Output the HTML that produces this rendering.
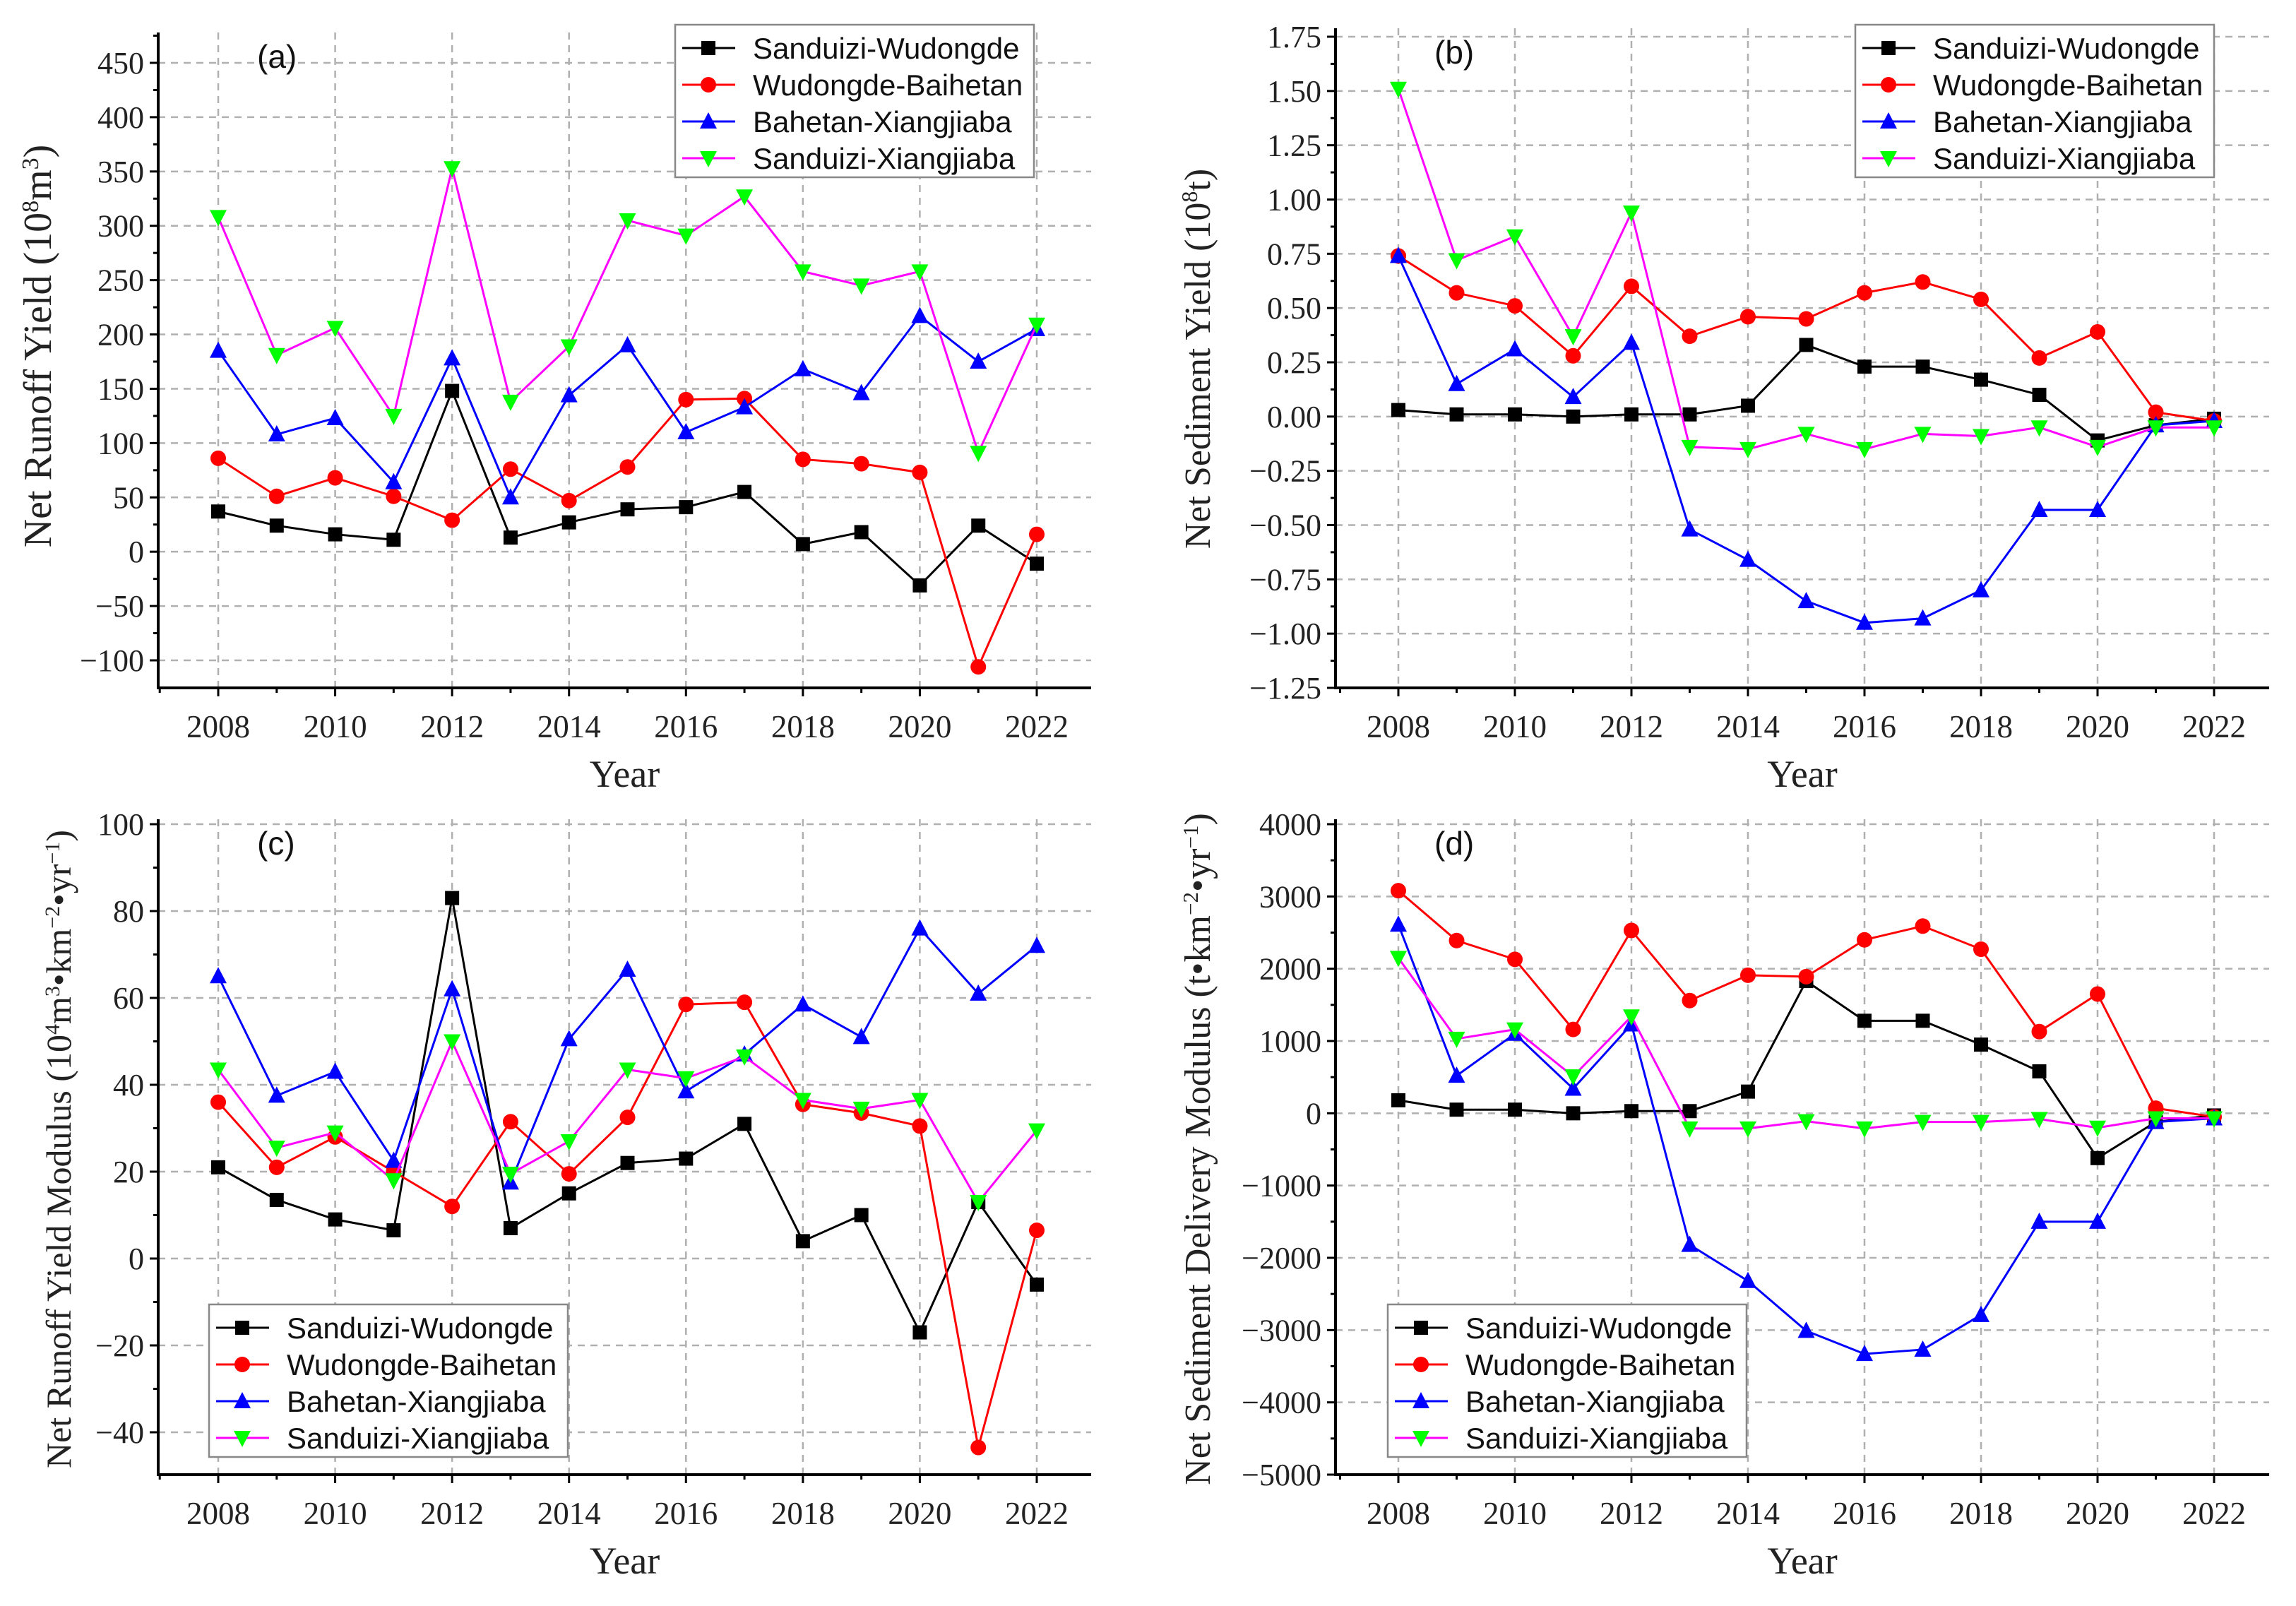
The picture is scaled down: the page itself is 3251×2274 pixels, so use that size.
<!DOCTYPE html>
<html><head><meta charset="utf-8"><style>
html,body{margin:0;padding:0;background:#fff;}
svg{display:block;}
</style></head><body>
<svg id="chart" width="3251" height="2274" viewBox="0 0 3251 2274" xmlns="http://www.w3.org/2000/svg"></svg>
<script>
const years = [2008,2009,2010,2011,2012,2013,2014,2015,2016,2017,2018,2019,2020,2021,2022];
const xTicks = [2008,2010,2012,2014,2016,2018,2020,2022];
const seriesNames = ["Sanduizi-Wudongde","Wudongde-Baihetan","Bahetan-Xiangjiaba","Sanduizi-Xiangjiaba"];
// panel a
const aSW = [37,24,16,11,148,13,27,39,41,55,7,18,-31,24,-11];
const aWB = [86,51,68,51,29,76,47,78,140,141,85,81,73,-106,16];
const aBX = [185,108,123,64,178,50,144,190,110,133,168,146,217,175,205];
const aSX = [308,181,206,125,353,138,189,305,291,327,258,245,258,91,209];
const aTicks = [-100,-50,0,50,100,150,200,250,300,350,400,450];
// panel b
const bSW = [0.03,0.01,0.01,0.0,0.01,0.01,0.05,0.33,0.23,0.23,0.17,0.10,-0.11,-0.04,-0.01];
const bWB = [0.74,0.57,0.51,0.28,0.60,0.37,0.46,0.45,0.57,0.62,0.54,0.27,0.39,0.02,-0.02];
const bBX = [0.74,0.15,0.31,0.09,0.34,-0.52,-0.66,-0.85,-0.95,-0.93,-0.80,-0.43,-0.43,-0.04,-0.02];
const bSX = [1.51,0.72,0.83,0.37,0.94,-0.14,-0.15,-0.08,-0.15,-0.08,-0.09,-0.05,-0.14,-0.05,-0.05];
const bTicks = [-1.25,-1.0,-0.75,-0.5,-0.25,0,0.25,0.5,0.75,1.0,1.25,1.5,1.75];
// panel c
const cSW = [21,13.5,9,6.5,83,7,15,22,23,31,4,10,-17,13,-6];
const cWB = [36,21,28,20,12,31.5,19.5,32.5,58.5,59,35.5,33.5,30.5,-43.5,6.5];
const cBX = [65,37.5,43,22.5,62,17.5,50.5,66.5,38.5,47,58.5,51,76,61,72];
const cSX = [43.5,25.5,29,18,50,19.5,27,43.5,41.5,46.5,36.5,34.5,36.5,13,29.5];
const cTicks = [-40,-20,0,20,40,60,80,100];
// panel d
const dSW = [180,50,50,0,30,30,300,1830,1280,1280,950,580,-620,-120,-30];
const dWB = [3080,2390,2130,1160,2530,1560,1910,1890,2400,2590,2270,1130,1650,70,-50];
const dBX = [2610,520,1100,340,1230,-1820,-2320,-3010,-3330,-3270,-2790,-1500,-1500,-120,-70];
const dSX = [2150,1030,1160,510,1340,-210,-210,-110,-210,-120,-120,-80,-200,-70,-70];
const dTicks = [-5000,-4000,-3000,-2000,-1000,0,1000,2000,3000,4000];

const NS="http://www.w3.org/2000/svg";
const svg=document.getElementById('chart');
function mk(tag,attrs,parent){const e=document.createElementNS(NS,tag);for(const k in attrs)e.setAttribute(k,attrs[k]);(parent||svg).appendChild(e);return e;}
const lineColors=["#000000","#ff0000","#0000ff","#ff00ff"];
const markFill=["#000000","#ff0000","#0000ff","#00ff00"];
const shapes=["square","circle","up","down"];
function marker(g,shape,x,y,fill){
  const s=10;let e;
  if(shape==="square")e=mk('rect',{x:x-s,y:y-s,width:2*s,height:2*s,fill:fill},g);
  else if(shape==="circle")e=mk('circle',{cx:x,cy:y,r:s+1,fill:fill},g);
  else if(shape==="up")e=mk('polygon',{points:`${x},${y-s-3} ${x-s-2},${y+s} ${x+s+2},${y+s}`,fill:fill},g);
  else e=mk('polygon',{points:`${x},${y+s+3} ${x-s-2},${y-s} ${x+s+2},${y-s}`,fill:fill},g);
  return e;
}
function panel(p){
  const g=mk('g',{});
  
  
  const X=v=>p.x0+(v-2008)*(p.x1-p.x0)/14;
  const Y=v=>p.ya+(v-p.va)*(p.yb-p.ya)/(p.vb-p.va);
  xTicks.forEach(t=>{const l=mk('line',{x1:X(t),x2:X(t),y1:p.top,y2:p.bottom,stroke:"#b0b0b0","stroke-width":2.5,"stroke-dasharray":"10 8"},g);
    });
  p.ticks.forEach(t=>{const l=mk('line',{x1:p.left,x2:p.right,y1:Y(t),y2:Y(t),stroke:"#b0b0b0","stroke-width":2.5,"stroke-dasharray":"10 8"},g);
    });
  const ax=mk('line',{x1:p.left,x2:p.left,y1:p.top,y2:p.bottom+2,stroke:"#000","stroke-width":4},g);
  
  const bx=mk('line',{x1:p.left-2,x2:p.right,y1:p.bottom,y2:p.bottom,stroke:"#000","stroke-width":4},g);
  
  const step=p.ticks[1]-p.ticks[0];
  p.ticks.forEach((t,i)=>{
    mk('line',{x1:p.left-12,x2:p.left,y1:Y(t),y2:Y(t),stroke:"#000","stroke-width":3},g);
    const m=Y(t+step/2); if(m>p.top) mk('line',{x1:p.left-7,x2:p.left,y1:m,y2:m,stroke:"#000","stroke-width":3},g);
    const tx=mk('text',{x:p.left-20,y:Y(t)+15,"text-anchor":"end","font-family":"Liberation Serif, serif","font-size":44,fill:"#222"},g);
    tx.textContent=(t<0?"\u2212":"")+(p.dec?Math.abs(t).toFixed(2):Math.abs(t));
    
  });
  for(let yr=2007;yr<=2023;yr++){const xx=X(yr);if(xx>=p.left&&xx<=p.right)mk('line',{x1:xx,x2:xx,y1:p.bottom,y2:p.bottom+(yr%2===0?12:7),stroke:"#000","stroke-width":3},g);}
  xTicks.forEach(t=>{const tx=mk('text',{x:X(t),y:p.bottom+70,"text-anchor":"middle","font-family":"Liberation Serif, serif","font-size":45,fill:"#222"},g);
    tx.textContent=t;});
  const xt=mk('text',{x:(p.left+p.right)/2,y:p.bottom+140,"text-anchor":"middle","font-family":"Liberation Serif, serif","font-size":54,fill:"#222"},g);
  xt.textContent="Year";
  const yt=mk('text',{x:0,y:0,"text-anchor":"middle","font-family":"Liberation Serif, serif","font-size":p.yfs,fill:"#222",transform:`translate(${p.ytx},${p.yty}) rotate(-90)`},g);
  yt.innerHTML=p.ytitle;
  const pl=mk('text',{x:p.left+140,y:p.top+50,"font-family":"Liberation Sans, sans-serif","font-size":46,fill:"#111"},g);
  pl.textContent="("+p.id+")";
  p.series.forEach((arr,si)=>{
    const sg=mk('g',{},g);
    
    
    const pts=arr.map((v,i)=>X(years[i])+","+Y(v)).join(" ");
    mk('polyline',{points:pts,fill:"none",stroke:lineColors[si],"stroke-width":3},sg);
    arr.forEach((v,i)=>{const m=marker(sg,shapes[si],X(years[i]),Y(v),markFill[si]);
      });
  });
  const lg=mk('g',{},g);
  
  mk('rect',{x:p.lx,y:p.ly,width:508,height:216,fill:"#fff",stroke:"#888","stroke-width":2.5},lg);
  seriesNames.forEach((n,i)=>{
    const e=mk('g',{},lg);
    
    const cy=p.ly+33+i*52;
    mk('line',{x1:p.lx+10,x2:p.lx+85,y1:cy,y2:cy,stroke:lineColors[i],"stroke-width":3},e);
    marker(e,shapes[i],p.lx+47,cy,markFill[i]);
    const t=mk('text',{x:p.lx+110,y:cy+15,"font-family":"Liberation Sans, sans-serif","font-size":42,fill:"#111"},e);
    t.textContent=n;
  });
}
panel({id:"a",left:224,right:1545,top:46,bottom:974,x0:309,x1:1468,va:450,ya:89,vb:-100,yb:935,ticks:aTicks,dec:false,yfs:56,
  series:[aSW,aWB,aBX,aSX],lx:956,ly:35,ytx:72,yty:490,ytitle:'Net Runoff Yield (10<tspan baseline-shift="super" font-size="34">8</tspan>m<tspan baseline-shift="super" font-size="34">3</tspan>)'});
panel({id:"b",left:1891,right:3213,top:40,bottom:974,x0:1980,x1:3135,va:1.75,ya:52,vb:-1.25,yb:974,ticks:bTicks,dec:true,yfs:52,
  series:[bSW,bWB,bBX,bSX],lx:2627,ly:35,ytx:1713,yty:508,ytitle:'Net Sediment Yield (10<tspan baseline-shift="super" font-size="32">8</tspan>t)'});
panel({id:"c",left:224,right:1545,top:1160,bottom:2088,x0:309,x1:1468,va:100,ya:1167,vb:-40,yb:2028,ticks:cTicks,dec:false,yfs:50,
  series:[cSW,cWB,cBX,cSX],lx:296,ly:1847,ytx:100,yty:1627,ytitle:'Net Runoff Yield Modulus (10<tspan baseline-shift="super" font-size="30">4</tspan>m<tspan baseline-shift="super" font-size="30">3</tspan>•km<tspan baseline-shift="super" font-size="30">−2</tspan>•yr<tspan baseline-shift="super" font-size="30">−1</tspan>)'});
panel({id:"d",left:1891,right:3213,top:1160,bottom:2088,x0:1980,x1:3135,va:4000,ya:1167,vb:-5000,yb:2088,ticks:dTicks,dec:false,yfs:52,
  series:[dSW,dWB,dBX,dSX],lx:1965,ly:1847,ytx:1713,yty:1627,ytitle:'Net  Sediment Delivery Modulus (t•km<tspan baseline-shift="super" font-size="31">−2</tspan>•yr<tspan baseline-shift="super" font-size="31">−1</tspan>)'});
</script>
</body></html>
